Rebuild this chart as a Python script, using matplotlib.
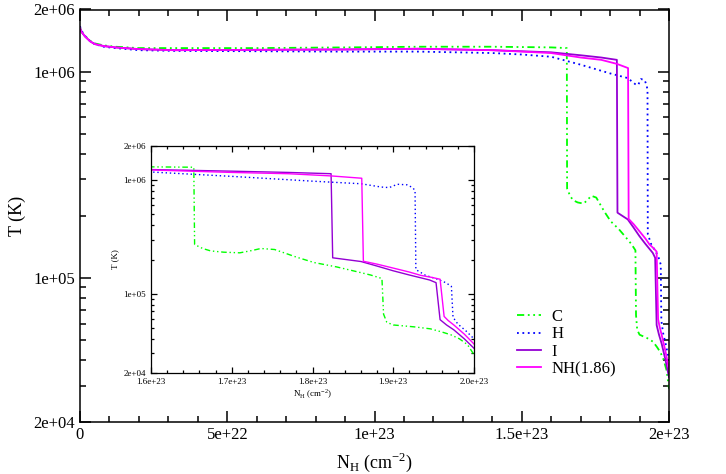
import matplotlib
matplotlib.use("Agg")
import matplotlib.pyplot as plt
import numpy as np
from matplotlib.ticker import FixedLocator, NullFormatter

plt.rcParams['font.family'] = ['Liberation Serif', 'DejaVu Serif']
plt.rcParams['mathtext.fontset'] = 'custom'
plt.rcParams['mathtext.rm'] = 'Liberation Serif'

# column density in units of 1e23 cm^-2, temperature in K
nh_C = [0.0, 0.005, 0.017, 0.035, 0.05, 0.08, 0.12, 0.2, 0.32, 0.6, 0.9, 1.15, 1.4, 1.6, 1.653,
        1.654, 1.664, 1.674, 1.69, 1.71, 1.725, 1.736, 1.753, 1.78, 1.802, 1.83, 1.852, 1.872, 1.886,
        1.888, 1.892, 1.90, 1.926, 1.946, 1.96, 1.971, 1.982, 1.992, 2.0]
T_C = [1.63e6, 1.56e6, 1.49e6, 1.41e6, 1.37e6, 1.34e6, 1.32e6, 1.30e6, 1.30e6, 1.30e6, 1.31e6, 1.32e6, 1.32e6, 1.31e6, 1.30e6,
       2.71e5, 2.5e5, 2.38e5, 2.32e5, 2.29e5, 2.4e5, 2.5e5, 2.45e5, 2.1e5, 1.88e5, 1.72e5, 1.58e5, 1.46e5, 1.36e5,
       6.6e4, 5.6e4, 5.3e4, 5.1e4, 4.9e4, 4.6e4, 4.35e4, 4.0e4, 3.55e4, 2.9e4]

nh_H = [0.0, 0.005, 0.017, 0.035, 0.05, 0.08, 0.12, 0.2, 0.32, 0.6, 0.9, 1.15, 1.4, 1.5, 1.6, 1.7, 1.8,
        1.86, 1.885, 1.895, 1.905, 1.917, 1.924, 1.927,
        1.928, 1.94, 1.955, 1.965, 1.972,
        1.974, 1.98, 1.99, 2.0]
T_H = [1.66e6, 1.58e6, 1.49e6, 1.40e6, 1.36e6, 1.32e6, 1.30e6, 1.27e6, 1.26e6, 1.255e6, 1.25e6, 1.25e6, 1.23e6, 1.21e6, 1.18e6, 1.08e6, 9.8e5,
       9.3e5, 8.7e5, 8.6e5, 9.2e5, 9.1e5, 8.6e5, 8.1e5,
       1.63e5, 1.45e5, 1.34e5, 1.25e5, 1.16e5,
       6.2e4, 5.4e4, 4.7e4, 4.0e4]

nh_I = [0.0, 0.005, 0.017, 0.035, 0.05, 0.08, 0.12, 0.2, 0.32, 0.6, 0.9, 1.15, 1.4, 1.6, 1.7, 1.77, 1.823,
        1.825, 1.86, 1.88, 1.90, 1.92, 1.934, 1.945, 1.953,
        1.958, 1.966, 1.975, 1.988, 2.0]
T_I = [1.63e6, 1.56e6, 1.48e6, 1.40e6, 1.36e6, 1.33e6, 1.31e6, 1.285e6, 1.27e6, 1.275e6, 1.28e6, 1.29e6, 1.27e6, 1.24e6, 1.20e6, 1.17e6, 1.14e6,
       2.07e5, 1.92e5, 1.75e5, 1.59e5, 1.46e5, 1.38e5, 1.32e5, 1.25e5,
       5.9e4, 5.3e4, 4.8e4, 4.0e4, 3.3e4]

nh_NH = [0.0, 0.005, 0.017, 0.035, 0.05, 0.08, 0.12, 0.2, 0.32, 0.6, 0.9, 1.15, 1.4, 1.6, 1.7, 1.77, 1.823, 1.861,
         1.863, 1.88, 1.90, 1.92, 1.934, 1.948, 1.958,
         1.963, 1.968, 1.975, 1.988, 2.0]
T_NH = [1.63e6, 1.56e6, 1.48e6, 1.40e6, 1.36e6, 1.33e6, 1.31e6, 1.285e6, 1.27e6, 1.275e6, 1.28e6, 1.29e6, 1.27e6, 1.23e6, 1.17e6, 1.14e6, 1.09e6, 1.04e6,
        1.93e5, 1.82e5, 1.68e5, 1.55e5, 1.45e5, 1.39e5, 1.34e5,
        6.3e4, 5.8e4, 5.3e4, 4.4e4, 3.6e4]

labels = ['C', 'H', 'I', 'NH(1.86)']
colors = ['#00ff00', '#0000ff', '#9400d3', '#ff00ff']
styles = [(0, (4, 2, 1, 2, 1, 2)), (0, (1, 2)), '-', '-']

main_xticks = [0.0, 0.5, 1.0, 1.5, 2.0]
main_xticklabels = ['0', '5e+22', '1e+23', '1.5e+23', '2e+23']
inset_xticks = [1.6, 1.7, 1.8, 1.9, 2.0]
inset_xticklabels = ['1.6e+23', '1.7e+23', '1.8e+23', '1.9e+23', '2.0e+23']
yticks = [2e4, 1e5, 1e6, 2e6]
yticklabels = ['2e+04', '1e+05', '1e+06', '2e+06']

series = [(nh_C, T_C), (nh_H, T_H), (nh_I, T_I), (nh_NH, T_NH)]

fig = plt.figure(figsize=(7.26, 4.74), dpi=100)
ax = fig.add_axes([80/726, 1-422/474, 589/726, 412.5/474])
ins = fig.add_axes([151/726, 1-373/474, 323/726, 227/474])


def style_axes(a, xt, xtl, xminor, size, major_len, minor_len, lw):
    a.set_yscale('log')
    a.set_ylim(2e4, 2e6)
    a.set_xticks(xt)
    a.set_xticklabels(xtl)
    a.xaxis.set_minor_locator(FixedLocator(xminor))
    a.set_yticks(yticks)
    a.set_yticklabels(yticklabels)
    yminor = [k*1e4 for k in range(3, 10)] + [k*1e5 for k in range(2, 10)]
    a.yaxis.set_minor_locator(FixedLocator(yminor))
    a.yaxis.set_minor_formatter(NullFormatter())
    a.tick_params(which='both', direction='in', top=True, right=True, labelsize=size, width=lw)
    a.tick_params(which='major', length=major_len)
    a.tick_params(which='minor', length=minor_len)
    for s in a.spines.values():
        s.set_linewidth(lw)


for (x, y), lab, c, ls in zip(series, labels, colors, styles):
    ax.plot(np.array(x), y, color=c, linestyle=ls, lw=1.3, label=lab)
    ins.plot(np.array(x), y, color=c, linestyle=ls, lw=1.0)

ax.set_xlim(0, 2.0)
style_axes(ax, main_xticks, main_xticklabels, np.arange(0, 2.01, 0.1), 12, 8, 4, 1.1)
ax.set_xlabel(r'N$_\mathrm{H}$ (cm$^{-2}$)', fontsize=13, labelpad=6)
ax.set_ylabel('T (K)', fontsize=13, labelpad=5)

ins.set_xlim(1.6, 2.0)
style_axes(ins, inset_xticks, inset_xticklabels, np.arange(1.6, 2.001, 0.02), 6.5, 4.5, 2.2, 0.9)
ins.set_xlabel(r'N$_\mathrm{H}$ (cm$^{-2}$)', fontsize=6.5, labelpad=1)
ins.set_ylabel('T (K)', fontsize=6.5, labelpad=3)

ax.legend(loc='upper left', bbox_to_anchor=(517/726, 1-309/474), bbox_transform=fig.transFigure,
          frameon=False, fontsize=12, handlelength=1.45, handletextpad=0.6, labelspacing=0.08,
          borderpad=0, borderaxespad=0)

fig.savefig('out.png', dpi=100)
